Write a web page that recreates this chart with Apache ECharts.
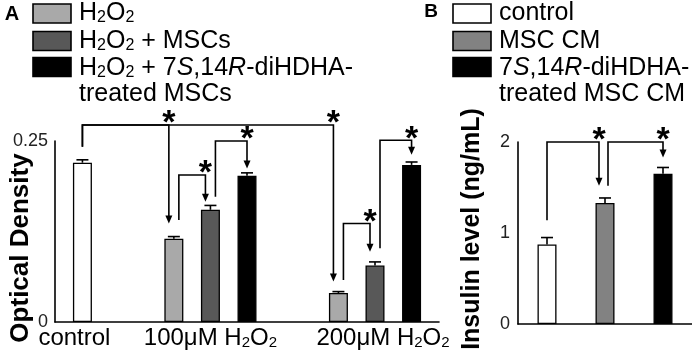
<!DOCTYPE html>
<html>
<head>
<meta charset="utf-8">
<script src="https://cdn.jsdelivr.net/npm/echarts@6/dist/echarts.min.js"></script>
<style>
  html, body { margin: 0; padding: 0; background: #fff; }
  #chart { width: 692px; height: 356px; }
</style>
</head>
<body>
<div id="chart"></div>
<script>
// ---- panel A: optical density ----
const groupsA = ['control', '100μM H2O2', '200μM H2O2']
const controlA = [0.220]
const controlErrA = [0.004]
const h2o2A = [0.115, 0.040]          // 100μM, 200μM
const h2o2ErrA = [0.003, 0.002]
const mscA = [0.155, 0.078]
const mscErrA = [0.006, 0.005]
const treatedA = [0.202, 0.217]
const treatedErrA = [0.004, 0.004]
const legendA = ['H2O2', 'H2O2 + MSCs', 'H2O2 + 7S,14R-diHDHA-treated MSCs']
const yTicksA = [0, 0.25]

// ---- panel B: insulin ----
const groupsB = ['control', 'MSC CM', '7S,14R-diHDHA-treated MSC CM']
const insulinB = [0.875, 1.33, 1.65]
const insulinErrB = [0.075, 0.055, 0.07]
const yTicksB = [0, 1, 2]

// significance brackets: [from bar, to bar, start value, line value, arrow tip value]
const sigA = [
  ['ctrl', 'h100', 0.242, 0.272, 0.136],
  ['ctrl', 'h200', 0.242, 0.272, 0.056],
  ['h100', 'm100', 0.141, 0.203, 0.166],
  ['m100', 't100', 0.173, 0.250, 0.212],
  ['h200', 'm200', 0.058, 0.136, 0.097],
  ['m200', 't200', 0.102, 0.251, 0.231]
]
const sigB = [
  [0, 1, 1.14, 2.0, 1.52],
  [1, 2, 1.52, 2.0, 1.83]
]

const FONT = '"Liberation Sans", Arial, sans-serif'
const WHITE = '#ffffff'
const LIGHT = '#a9a9a9'
const DARK = '#585858'
const MID = '#828282'
const BLACK = '#000000'

// rich-text styles for subscripts / italics
function richStyles (size) {
  return {
    s: { fontSize: Math.round(size * 0.64), lineHeight: Math.round(size * 0.64), verticalAlign: 'bottom', fontFamily: FONT, color: '#000' },
    i: { fontSize: size, fontStyle: 'italic', fontFamily: FONT, color: '#000' },
    gap: { width: 16, fontSize: size }
  }
}
function markup (str) {
  return str
    .replace(/H2O2/g, 'H{s|2}O{s|2}')
    .replace(/7S/g, '7{i|S}')
    .replace(/14R/g, '14{i|R}')
    .replace('diHDHA-', 'diHDHA-\n')
}

// panel A layout on a fine category axis (21 slots)
const SLOTS = 21
const slotOf = { ctrl: 1, h100: 6, m100: 8, t100: 10, h200: 15, m200: 17, t200: 19 }
const labelSlot = { 1: groupsA[0], 8: groupsA[1], 17: groupsA[2] }
const slotsA = []
for (let i = 0; i < SLOTS; i++) slotsA.push(labelSlot[i] || '')

const barsA = [
  { key: 'ctrl', v: controlA[0], e: controlErrA[0], c: WHITE },
  { key: 'h100', v: h2o2A[0], e: h2o2ErrA[0], c: LIGHT },
  { key: 'm100', v: mscA[0], e: mscErrA[0], c: DARK },
  { key: 't100', v: treatedA[0], e: treatedErrA[0], c: BLACK },
  { key: 'h200', v: h2o2A[1], e: h2o2ErrA[1], c: LIGHT },
  { key: 'm200', v: mscA[1], e: mscErrA[1], c: DARK },
  { key: 't200', v: treatedA[1], e: treatedErrA[1], c: BLACK }
]
const barDataA = slotsA.map(() => '-')
barsA.forEach(b => {
  barDataA[slotOf[b.key]] = { value: b.v, itemStyle: { color: b.c } }
})
const errDataA = barsA.map(b => [slotOf[b.key], b.v, b.e])
const colorsB = [WHITE, MID, BLACK]
const barDataB = insulinB.map((v, i) => ({ value: v, itemStyle: { color: colorsB[i] } }))
const errDataB = insulinB.map((v, i) => [i, v, insulinErrB[i]])

// arrows leave right of centre (except control) and land left of centre (except treated)
const sigDataA = sigA.map(s => [slotOf[s[0]], slotOf[s[1]], s[2], s[3], s[4],
  s[0] === 'ctrl' ? 0 : 5, s[1][0] === 't' ? 0 : -5])
const sigDataB = sigB.map(s => [s[0], s[1], s[2], s[3], s[4],
  s[0] === 0 ? 0 : 3, s[1] === 2 ? 0 : -6])

function renderErr (params, api) {
  const x = api.value(0)
  const v = api.value(1)
  const e = api.value(2)
  const p0 = api.coord([x, v])
  const p1 = api.coord([x, v + e])
  const st = { stroke: '#000', lineWidth: 1.6 }
  return {
    type: 'group',
    children: [
      { type: 'line', shape: { x1: p0[0], y1: p0[1], x2: p1[0], y2: p1[1] }, style: st },
      { type: 'line', shape: { x1: p1[0] - 6, y1: p1[1], x2: p1[0] + 6, y2: p1[1] }, style: st }
    ]
  }
}

function renderSig (params, api) {
  const a = api.coord([api.value(0), api.value(2)])
  const t = api.coord([api.value(0), api.value(3)])
  const b = api.coord([api.value(1), api.value(4)])
  const fx = a[0] + api.value(5)
  const tx = b[0] + api.value(6)
  const top = t[1]
  const tip = b[1]
  return {
    type: 'group',
    children: [
      {
        type: 'polyline',
        shape: { points: [[fx, a[1]], [fx, top], [tx, top], [tx, tip - 6]] },
        style: { stroke: '#000', lineWidth: 1.6, fill: null }
      },
      {
        type: 'polygon',
        shape: { points: [[tx - 3.5, tip - 8], [tx + 3.5, tip - 8], [tx, tip]] },
        style: { fill: '#000' }
      },
      {
        type: 'text',
        x: tx,
        y: top - 1,
        style: {
          text: '*', fill: '#000', font: 'bold 34px ' + FONT,
          align: 'center', verticalAlign: 'middle', textAlign: 'center', textVerticalAlign: 'middle'
        }
      }
    ]
  }
}

// legends, panel letters and axis titles
const graphic = []
function legendBlock (x0, names, colors) {
  const tops = [4, 31.5, 57.5]
  const textTops = [0, 28, 55]
  names.forEach((n, i) => {
    graphic.push({
      type: 'rect', shape: { x: x0, y: tops[i], width: 38, height: 19 },
      style: { fill: colors[i], stroke: '#000', lineWidth: 1.6 }
    })
    graphic.push({
      type: 'text', x: x0 + 46, y: textTops[i],
      style: {
        text: markup(n), rich: richStyles(25), fontSize: 25, fontFamily: FONT, fill: '#000',
        lineHeight: 26, align: 'left', verticalAlign: 'top'
      }
    })
  })
}
legendBlock(33, legendA, [LIGHT, DARK, BLACK])
legendBlock(453, groupsB, colorsB)
graphic.push({ type: 'text', x: 12, y: 14, style: { text: 'A', font: 'bold 20px ' + FONT, fill: '#000', align: 'center', verticalAlign: 'middle' } })
graphic.push({ type: 'text', x: 431, y: 12, style: { text: 'B', font: 'bold 19px ' + FONT, fill: '#000', align: 'center', verticalAlign: 'middle' } })
graphic.push({ type: 'text', x: 21, y: 248, rotation: Math.PI / 2, style: { text: 'Optical Density', font: 'bold 26px ' + FONT, fill: '#000', align: 'center', verticalAlign: 'middle' } })
graphic.push({ type: 'text', x: 472, y: 229, rotation: Math.PI / 2, style: { text: 'Insulin level (ng/mL)', font: 'bold 25px ' + FONT, fill: '#000', align: 'center', verticalAlign: 'middle' } })

const axisLine = { lineStyle: { color: '#000', width: 1.6 } }
const axisTick = { inside: true, length: 5, lineStyle: { color: '#000', width: 1.5 } }

const option = {
  animation: false,
  backgroundColor: '#fff',
  textStyle: { fontFamily: FONT },
  graphic: graphic,
  grid: [
    { left: 55, top: 141, width: 384, bottom: 34 },
    { left: 518, top: 142, width: 183, bottom: 32 }
  ],
  xAxis: [
    {
      gridIndex: 0, type: 'category', data: slotsA, boundaryGap: true,
      axisLine: axisLine, axisTick: { show: false },
      axisLabel: {
        interval: 0, margin: 4, fontSize: 24, color: '#000', fontFamily: FONT,
        formatter: (v, idx) => {
          if (!v) return ''
          if (idx === slotOf.ctrl) return markup(v) + '{gap| }'
          if (idx === slotOf.m200) return '{gap| }' + markup(v)
          return markup(v)
        },
        rich: richStyles(24)
      }
    },
    {
      gridIndex: 1, type: 'category', data: groupsB, boundaryGap: true,
      axisLine: axisLine, axisTick: { show: false }, axisLabel: { show: false }
    }
  ],
  yAxis: [
    {
      gridIndex: 0, type: 'value', min: 0, max: 0.25, interval: 0.05,
      axisLine: { show: true, lineStyle: axisLine.lineStyle }, axisTick: axisTick, splitLine: { show: false },
      axisLabel: {
        margin: 7, fontSize: 18, color: '#222', fontFamily: FONT,
        formatter: v => yTicksA.some(t => Math.abs(t - v) < 1e-9) ? String(v) : ''
      }
    },
    {
      gridIndex: 1, type: 'value', min: 0, max: 2, interval: 0.5,
      axisLine: { show: true, lineStyle: axisLine.lineStyle }, axisTick: axisTick, splitLine: { show: false },
      axisLabel: {
        margin: 8, fontSize: 18, color: '#222', fontFamily: FONT,
        formatter: v => yTicksB.indexOf(v) >= 0 ? String(v) : ''
      }
    }
  ],
  series: [
    {
      type: 'bar', xAxisIndex: 0, yAxisIndex: 0, barWidth: 19, data: barDataA,
      itemStyle: { borderColor: '#000', borderWidth: 1.3 }
    },
    {
      type: 'custom', xAxisIndex: 0, yAxisIndex: 0, data: errDataA, renderItem: renderErr, z: 3, clip: false
    },
    {
      type: 'custom', xAxisIndex: 0, yAxisIndex: 0, data: sigDataA, renderItem: renderSig, z: 4, clip: false
    },
    {
      type: 'bar', xAxisIndex: 1, yAxisIndex: 1, barWidth: 19, data: barDataB,
      itemStyle: { borderColor: '#000', borderWidth: 1.3 }
    },
    {
      type: 'custom', xAxisIndex: 1, yAxisIndex: 1, data: errDataB, renderItem: renderErr, z: 3, clip: false
    },
    {
      type: 'custom', xAxisIndex: 1, yAxisIndex: 1, data: sigDataB, renderItem: renderSig, z: 4, clip: false
    }
  ]
}

const chart = echarts.init(document.getElementById('chart'), null, { renderer: 'canvas' })
chart.setOption(option)
</script>
</body>
</html>
